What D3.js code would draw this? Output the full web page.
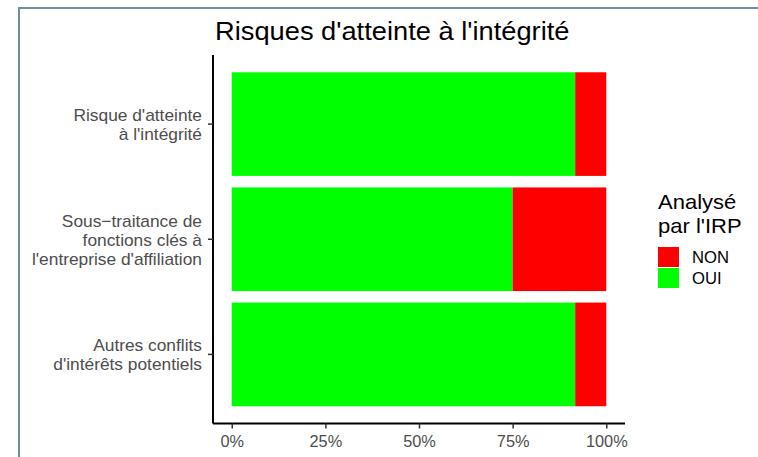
<!DOCTYPE html>
<html><head><meta charset="utf-8">
<script src="https://cdn.jsdelivr.net/npm/d3@7"></script>
<style>body{margin:0;background:#fff;} svg{display:block;font-family:"Liberation Sans",Arial,sans-serif;}</style>
</head><body>
<svg id="c" width="758" height="457"></svg>
<script>
const categories = [
  ["Risque d'atteinte", "à l'intégrité"],
  ["Sous\u2212traitance de", "fonctions clés à", "l'entreprise d'affiliation"],
  ["Autres conflits", "d'intérêts potentiels"]
];
const ouiValues = [0.917, 0.75, 0.917];
const nonValues = [0.083, 0.25, 0.083];
const xTicks = [0, 0.25, 0.5, 0.75, 1];
const xTickLabels = ["0%", "25%", "50%", "75%", "100%"];
const seriesNames = ["NON", "OUI"];
const colors = {NON: "#ff0000", OUI: "#00ff00"};

const svg = d3.select("#c");
// frame border
svg.append("path").attr("d", "M19,457 V8 H758").attr("fill", "none")
  .attr("stroke", "#6f8ea3").attr("stroke-width", 2);

const panel = {left: 213, right: 625, top: 55, bottom: 423.5};
const x = d3.scaleLinear().domain([-0.05, 1.05]).range([panel.left, panel.right]);
const idx = categories.map((d, i) => i);
const y = d3.scaleBand().domain(idx).range([panel.top, panel.bottom]).paddingInner(0.1).paddingOuter(0.15);

const rows = idx.map(i => ({i, OUI: ouiValues[i], NON: nonValues[i]}));
const stack = d3.stack().keys(["OUI", "NON"])(rows);
const g = svg.append("g");
stack.forEach(layer => {
  g.selectAll(null).data(layer).enter().append("rect")
    .attr("x", d => x(d[0])).attr("width", d => x(d[1]) - x(d[0]))
    .attr("y", d => y(d.data.i)).attr("height", y.bandwidth())
    .attr("fill", colors[layer.key]);
});

// helper: stretched text
function stext(sel, px, py, size, sx, str, anchor, fill) {
  return sel.append("text")
    .attr("transform", `translate(${px},${py}) scale(${sx},1)`)
    .attr("font-size", size).attr("fill", fill || "#000")
    .attr("text-anchor", anchor || "start").text(str);
}

// axes
const xAxis = svg.append("g").attr("transform", `translate(0,${panel.bottom})`)
  .call(d3.axisBottom(x).tickValues(xTicks).tickFormat("").tickSize(5).tickSizeOuter(0));
xAxis.select(".domain").attr("stroke", "#000").attr("stroke-width", 2).attr("d", `M${panel.left},0H${panel.right}`);
xAxis.selectAll(".tick line").attr("stroke", "#333").attr("stroke-width", 1.5);
xAxis.selectAll(".tick").each(function(d, i) {
  stext(d3.select(this), 0, 23, 16, 1.02, xTickLabels[i], "middle", "#4d4d4d");
});

const yAxis = svg.append("g").attr("transform", `translate(${panel.left},0)`)
  .call(d3.axisLeft(y).tickFormat("").tickSize(5).tickSizeOuter(0));
yAxis.select(".domain").attr("stroke", "#000").attr("stroke-width", 2).attr("d", `M0,${panel.top}V${panel.bottom}`);
yAxis.selectAll(".tick line").attr("stroke", "#333").attr("stroke-width", 1.5);
yAxis.selectAll(".tick").each(function(d) {
  const lines = categories[d];
  const lh = 19;
  lines.forEach((l, k) => {
    stext(d3.select(this), -11, (k - (lines.length - 1) / 2) * lh + 6.5, 17, 1.02, l, "end", "#4d4d4d");
  });
});

// title
stext(svg, 215, 39.5, 25.5, 1.07, "Risques d'atteinte à l'intégrité", "start", "#000");

// legend
const lg = svg.append("g");
stext(lg, 658, 209, 20, 1.1, "Analysé");
stext(lg, 658, 233, 20, 1.1, "par l'IRP");
seriesNames.forEach((s, k) => {
  lg.append("rect").attr("x", 658).attr("y", 247 + k * 21).attr("width", 21).attr("height", 20).attr("fill", colors[s]);
  stext(lg, 692, 263 + k * 21, 16, 1.04, s);
});
</script>
</body></html>
